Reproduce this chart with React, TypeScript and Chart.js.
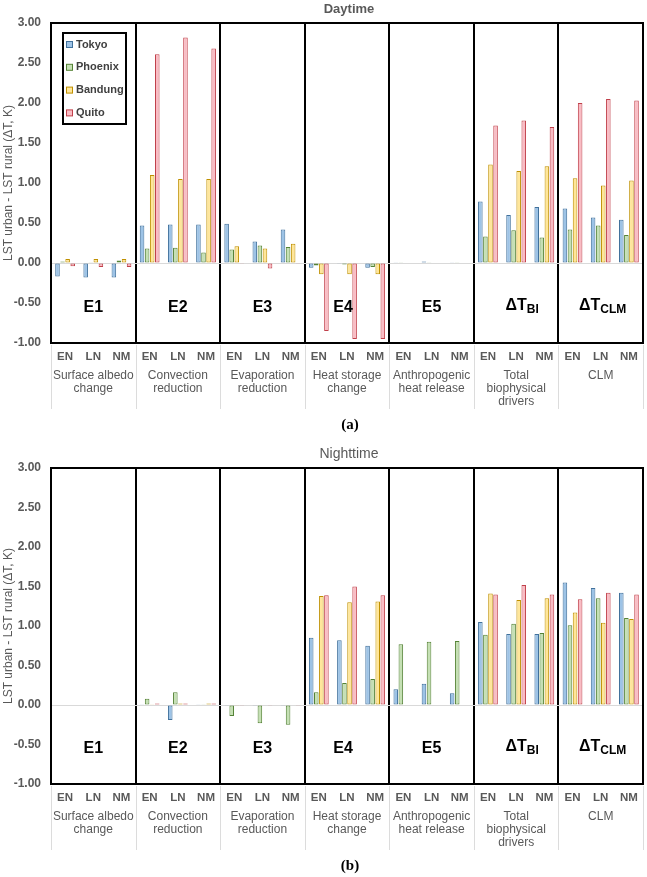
import React, { useEffect, useRef } from "react";
import { Chart, registerables } from "chart.js";

Chart.register(...registerables);

const FONT = '"Liberation Sans", Arial, sans-serif';

const subCats = ["EN", "LN", "NM"];
const categories = [
  ...subCats, ...subCats, ...subCats, ...subCats, ...subCats, ...subCats, ...subCats,
];
const groupNames = [
  ["Surface albedo", "change"],
  ["Convection", "reduction"],
  ["Evaporation", "reduction"],
  ["Heat storage", "change"],
  ["Anthropogenic", "heat release"],
  ["Total", "biophysical", "drivers"],
  ["CLM"],
];
const sectionMain = ["E1", "E2", "E3", "E4", "E5", "ΔT", "ΔT"];
const sectionSub = ["", "", "", "", "", "BI", "CLM"];
const cities = ["Tokyo", "Phoenix", "Bandung", "Quito"];
const fillColors = ["#9DC3E6", "#C5E0B4", "#FFE699", "#F9BCC4"];
const edgeColors = ["#41719C", "#548235", "#BF9000", "#C0404A"];
const yAxisTitle = "LST urban - LST rural (ΔT, K)";
const yMin = -1;
const yMax = 3;
const yStep = 0.5;

// Daytime values (E1, E2, E3, E4, E5, ΔT_BI, ΔT_CLM) x (EN, LN, NM)
const dayTokyo = [-0.17, -0.18, -0.18, 0.47, 0.48, 0.48, 0.49, 0.27, 0.42, -0.06, -0.01, -0.06, 0.01, 0.02, 0.01, 0.77, 0.6, 0.7, 0.68, 0.57, 0.54];
const dayPhoenix = [0.02, 0.01, 0.03, 0.18, 0.19, 0.13, 0.17, 0.22, 0.2, -0.03, -0.02, -0.05, 0.01, 0.01, 0.01, 0.33, 0.41, 0.32, 0.42, 0.47, 0.35];
const dayBandung = [0.05, 0.05, 0.05, 1.1, 1.05, 1.05, 0.21, 0.18, 0.24, -0.14, -0.14, -0.14, 0, 0, 0, 1.23, 1.15, 1.21, 1.06, 0.97, 1.03];
const dayQuito = [-0.04, -0.05, -0.05, 2.61, 2.82, 2.68, -0.01, -0.07, -0.01, -0.85, -0.95, -0.95, 0, 0, 0, 1.72, 1.78, 1.7, 2.0, 2.05, 2.03];

// Nighttime values
const nightTokyo = [0, 0, 0, 0.01, -0.19, 0.01, -0.01, -0.01, -0.01, 0.85, 0.82, 0.75, 0.2, 0.27, 0.15, 1.05, 0.9, 0.9, 1.55, 1.48, 1.42];
const nightPhoenix = [0, 0, 0, 0.08, 0.16, 0.01, -0.14, -0.23, -0.25, 0.16, 0.28, 0.33, 0.77, 0.8, 0.81, 0.89, 1.03, 0.91, 1.01, 1.35, 1.1];
const nightBandung = [0, 0, 0, 0.01, 0.02, 0.02, -0.01, 0, 0, 1.38, 1.3, 1.31, 0, 0, 0, 1.41, 1.33, 1.35, 1.17, 1.04, 1.09];
const nightQuito = [0, 0, 0, 0.02, 0.02, 0.02, -0.01, -0.01, -0.01, 1.39, 1.5, 1.39, 0, 0, 0, 1.4, 1.52, 1.4, 1.34, 1.42, 1.4];

const sectionShift = [0, 0, 0, -4, 0, 6, 2];

const decorPlugin = {
  id: "decor",
  afterDraw(chart: any) {
    const o = chart.options.plugins.decor;
    const { ctx, chartArea: a } = chart;
    const n = 7;
    const w = (a.right - a.left) / n;
    ctx.save();
    // frame
    ctx.strokeStyle = "#000";
    ctx.lineWidth = 2;
    ctx.strokeRect(a.left, a.top, a.right - a.left, a.bottom - a.top);
    // light separators under the axis
    ctx.strokeStyle = "#dcdcdc";
    ctx.lineWidth = 1;
    for (let k = 0; k <= n; k++) {
      const x = Math.round(a.left + k * w) + 0.5;
      ctx.beginPath();
      ctx.moveTo(x, a.bottom + 2);
      ctx.lineTo(x, a.bottom + 66);
      ctx.stroke();
    }
    // group labels
    ctx.fillStyle = "#595959";
    ctx.font = `12px ${FONT}`;
    ctx.textAlign = "center";
    ctx.textBaseline = "middle";
    groupNames.forEach((lines, k) => {
      lines.forEach((t, j) => {
        ctx.fillText(t, a.left + (k + 0.5) * w, a.bottom + 33 + j * 13);
      });
    });
    // section labels
    ctx.fillStyle = "#000";
    sectionMain.forEach((m, k) => {
      const cx = a.left + (k + 0.5) * w + sectionShift[k];
      const sub = sectionSub[k];
      const y = a.bottom - (sub ? 37 : 35);
      ctx.font = `bold 16px ${FONT}`;
      const mw = ctx.measureText(m).width;
      let sw = 0;
      if (sub) {
        ctx.font = `bold 12px ${FONT}`;
        sw = ctx.measureText(sub).width;
      }
      const start = cx - (mw + sw) / 2;
      ctx.textAlign = "left";
      ctx.textBaseline = "middle";
      ctx.font = `bold 16px ${FONT}`;
      ctx.fillText(m, start, y);
      if (sub) {
        ctx.font = `bold 12px ${FONT}`;
        ctx.fillText(sub, start + mw, y + 4);
      }
    });
    // title
    ctx.textAlign = "center";
    ctx.textBaseline = "middle";
    ctx.fillStyle = "#595959";
    ctx.font = o.titleFont;
    ctx.fillText(o.title, 349, a.top - 14);
    // caption
    ctx.fillStyle = "#000";
    ctx.font = `bold 15px "Liberation Serif", "Times New Roman", serif`;
    ctx.fillText(o.caption, 350, a.bottom + 82);
    // legend
    if (o.legend) {
      const lx = a.left + 12;
      const ly = a.top + 10;
      ctx.strokeStyle = "#000";
      ctx.lineWidth = 2;
      ctx.strokeRect(lx, ly, 63, 91);
      chart.data.datasets.forEach((ds: any, i: number) => {
        const cy = ly + 11.5 + i * 22.8;
        ctx.fillStyle = ds.backgroundColor;
        ctx.fillRect(lx + 3.5, cy - 3, 6, 6);
        ctx.strokeStyle = ds.borderColor;
        ctx.lineWidth = 1;
        ctx.strokeRect(lx + 3.5, cy - 3, 6, 6);
        ctx.fillStyle = "#404040";
        ctx.font = `bold 11px ${FONT}`;
        ctx.textAlign = "left";
        ctx.textBaseline = "middle";
        ctx.fillText(ds.label, lx + 13, cy);
      });
    }
    ctx.restore();
  },
};

function buildConfig(series: number[][], opts: any) {
  return {
    type: "bar" as const,
    data: {
      labels: categories,
      datasets: series.map((vals, i) => ({
        label: cities[i],
        data: vals,
        backgroundColor: fillColors[i],
        borderColor: edgeColors[i],
        borderWidth: 1,
        borderSkipped: false,
        categoryPercentage: 0.72,
        barPercentage: 0.9,
      })),
    },
    options: {
      responsive: false,
      animation: false,
      devicePixelRatio: 1,
      layout: { padding: { left: 0, right: 4, top: opts.top, bottom: 0 } },
      plugins: {
        legend: { display: false },
        tooltip: { enabled: false },
        decor: opts.decor,
      },
      scales: {
        x: {
          type: "category",
          offset: true,
          grid: {
            offset: true,
            drawTicks: false,
            color: (c: any) => (c.index % 3 === 0 ? "#000" : "rgba(0,0,0,0)"),
            lineWidth: (c: any) => (c.index % 3 === 0 ? 2 : 0),
          },
          border: { display: true, color: "#000", width: 2 },
          ticks: {
            autoSkip: false,
            maxRotation: 0,
            padding: 7,
            color: "#595959",
            font: { family: FONT, size: 11.5, weight: "bold" },
          },
          afterFit: (s: any) => {
            s.height = opts.xh;
          },
        },
        y: {
          min: yMin,
          max: yMax,
          ticks: {
            stepSize: yStep,
            padding: 10,
            color: "#595959",
            font: { family: FONT, size: 12, weight: "bold" },
            callback: (v: any) => Number(v).toFixed(2),
          },
          grid: {
            drawTicks: false,
            color: (c: any) => (c.tick && Math.abs(c.tick.value) < 1e-9 ? "#d9d9d9" : "rgba(0,0,0,0)"),
            lineWidth: 1,
          },
          border: { display: true, color: "#000", width: 2 },
          title: {
            display: true,
            text: yAxisTitle,
            color: "#595959",
            font: { family: FONT, size: 12 },
            padding: { top: 1, bottom: 0 },
          },
          afterFit: (s: any) => {
            s.width = 51;
          },
        },
      },
    },
    plugins: [decorPlugin],
  };
}

function Panel(props: { series: number[][]; height: number; top: number; xh: number; decor: any }) {
  const ref = useRef<HTMLCanvasElement>(null);
  useEffect(() => {
    const chart = new Chart(ref.current as HTMLCanvasElement, buildConfig(props.series, props) as any);
    return () => chart.destroy();
  }, []);
  return (
    <canvas
      ref={ref}
      width={647}
      height={props.height}
      style={{ display: "block", width: 647, height: props.height }}
    />
  );
}

export default function App() {
  return (
    <div style={{ position: "fixed", left: 0, top: 0, width: 647, height: 877, background: "#fff" }}>
      <Panel
        series={[dayTokyo, dayPhoenix, dayBandung, dayQuito]}
        height={440}
        top={23}
        xh={97}
        decor={{ title: "Daytime", titleFont: `bold 13px ${FONT}`, caption: "(a)", legend: true }}
      />
      <Panel
        series={[nightTokyo, nightPhoenix, nightBandung, nightQuito]}
        height={437}
        top={28}
        xh={93}
        decor={{ title: "Nighttime", titleFont: `14px ${FONT}`, caption: "(b)", legend: false }}
      />
    </div>
  );
}
